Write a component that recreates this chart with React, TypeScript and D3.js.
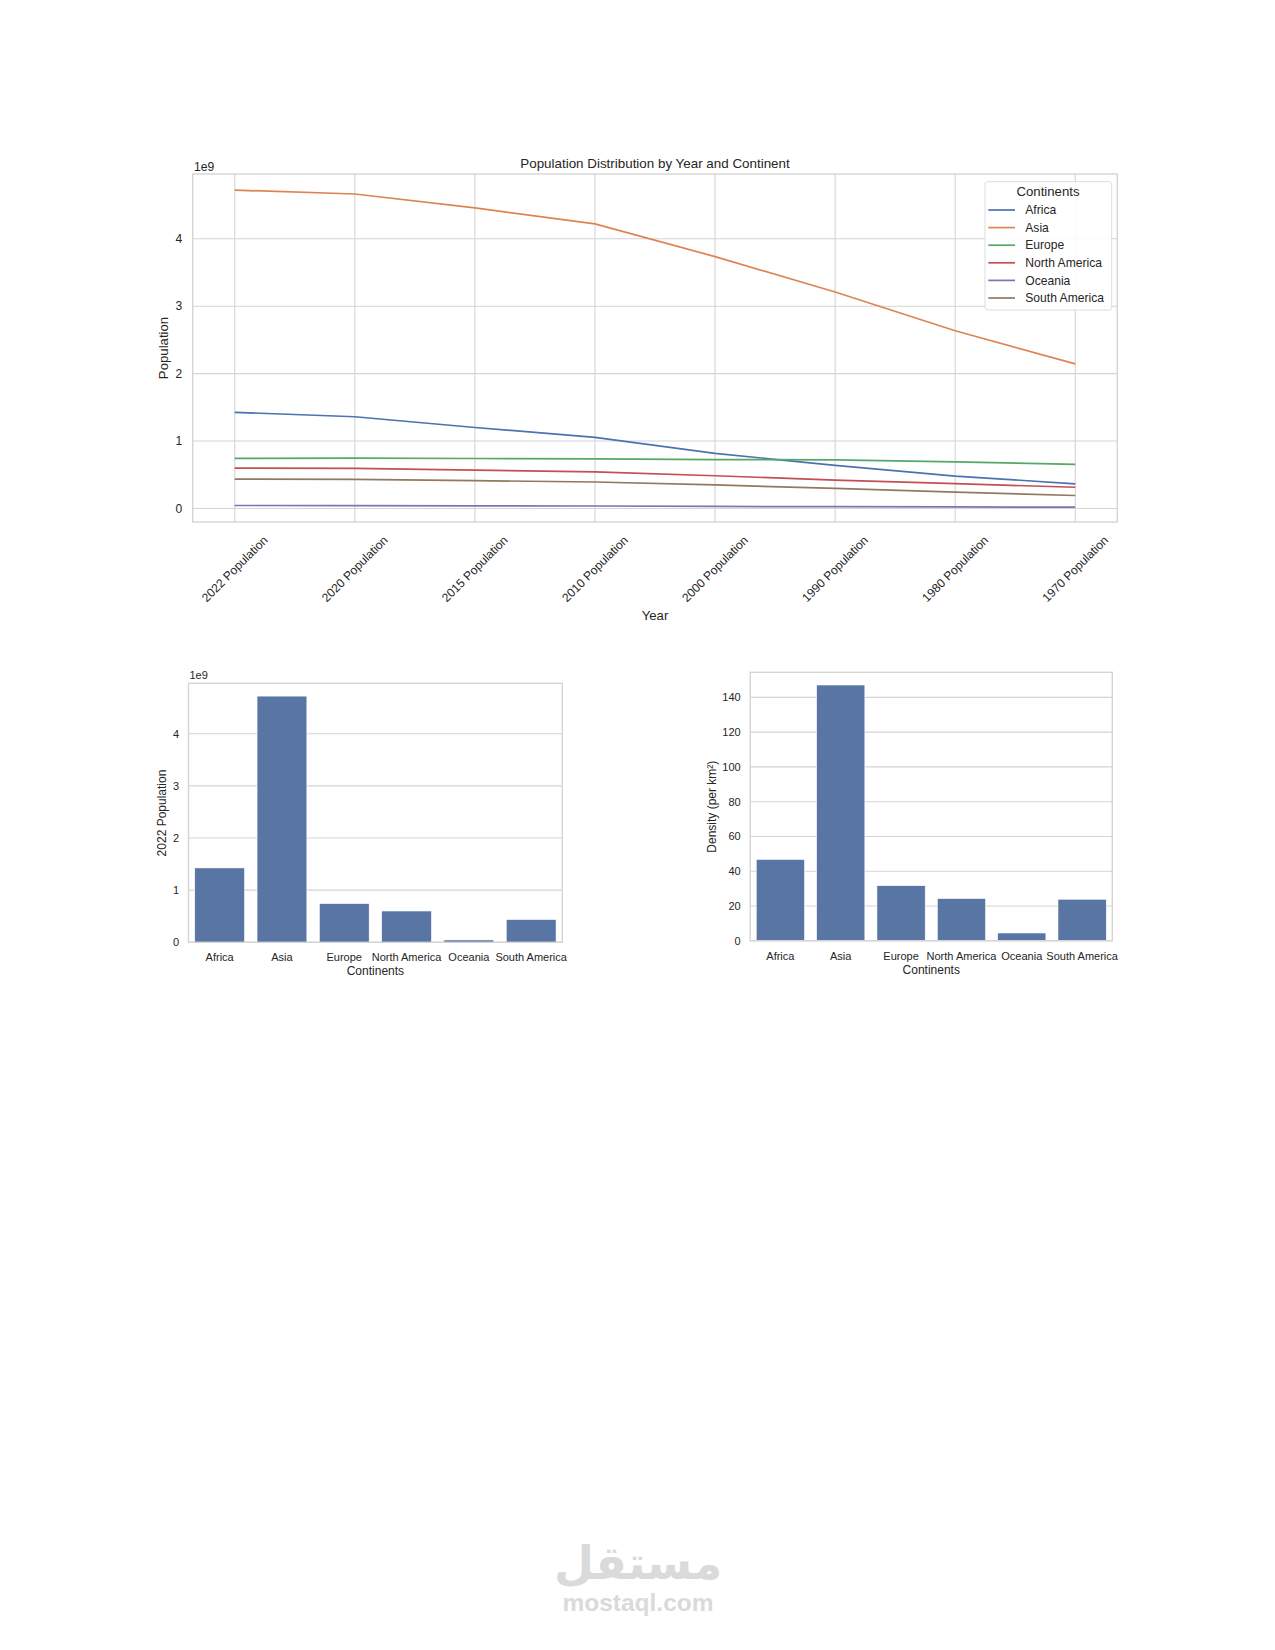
import React from "react";
import * as d3 from "d3";

const years = ["2022 Population", "2020 Population", "2015 Population", "2010 Population", "2000 Population", "1990 Population", "1980 Population", "1970 Population"];
const continents = ["Africa", "Asia", "Europe", "North America", "Oceania", "South America"];
// populations in millions
const africaPop = [1426.7, 1360.7, 1201.1, 1055.2, 818.9, 638.2, 481.5, 365.4];
const asiaPop = [4721.4, 4663.1, 4458.3, 4220.0, 3735.1, 3210.6, 2635.3, 2144.9];
const europePop = [743.1, 745.8, 741.5, 735.6, 726.1, 720.3, 692.5, 655.9];
const northAmericaPop = [600.3, 594.2, 570.4, 542.7, 486.1, 421.3, 368.3, 315.4];
const oceaniaPop = [45.0, 43.9, 40.4, 37.1, 31.2, 26.7, 22.9, 19.5];
const southAmericaPop = [436.8, 431.5, 413.1, 393.1, 349.6, 297.8, 241.8, 192.9];
const pop2022 = [1426.7, 4721.4, 743.1, 600.3, 45.0, 436.8];
const density = [46.8, 147.1, 31.7, 24.3, 4.5, 23.9];
const popTicks = [0, 1, 2, 3, 4];
const densityTicks = [0, 20, 40, 60, 80, 100, 120, 140];

const seriesColors = ["#4c72b0", "#dd8452", "#55a868", "#c44e52", "#8172b3", "#937860"];
const series = [africaPop, asiaPop, europePop, northAmericaPop, oceaniaPop, southAmericaPop];

const FONT = "'Liberation Sans', Arial, sans-serif";
const TXT = "#262626";
const GRID = "#d4d4d4";
const BAR = "#5975a4";

function LineChart() {
  const L = 192.7, R = 1117.3, T = 174, B = 522;
  const x = d3.scaleLinear().domain([-0.35, years.length - 1 + 0.35]).range([L, R]);
  const y = d3.scaleLinear().domain([-0.2, 4.96]).range([B, T]); // in 1e9
  const line = d3.line<number>().x((_, i) => x(i)).y((v) => y(v / 1000));
  const lgX = 985, lgY = 181.7, rowY0 = 210, rowStep = 17.6;
  return (
    <g fontFamily={FONT} fill={TXT}>
      {popTicks.map((t) => (
        <line key={"hg" + t} x1={L} x2={R} y1={y(t)} y2={y(t)} stroke={GRID} strokeWidth={1.1} />
      ))}
      {years.map((_, i) => (
        <line key={"vg" + i} x1={x(i)} x2={x(i)} y1={T} y2={B} stroke={GRID} strokeWidth={1.1} />
      ))}
      {series.map((s, k) => (
        <path key={"s" + k} d={line(s) || ""} fill="none" stroke={seriesColors[k]} strokeWidth={1.7} />
      ))}
      <rect x={L} y={T} width={R - L} height={B - T} fill="none" stroke={GRID} strokeWidth={1.4} />
      {popTicks.map((t) => (
        <text key={"yt" + t} x={182.3} y={y(t)} dy="0.35em" textAnchor="end" fontSize={12.1}>{t}</text>
      ))}
      {years.map((yr, i) => (
        <text key={"xt" + i} transform={`translate(${x(i)},569) rotate(-45)`} textAnchor="middle" dominantBaseline="central" fontSize={12.1}>{yr}</text>
      ))}
      <text x={194} y={170.7} fontSize={12.1}>1e9</text>
      <text x={(L + R) / 2} y={168.3} textAnchor="middle" fontSize={13.4}>Population Distribution by Year and Continent</text>
      <text x={(L + R) / 2} y={620} textAnchor="middle" fontSize={13.2}>Year</text>
      <text transform="translate(167.5,348) rotate(-90)" textAnchor="middle" fontSize={13.2}>Population</text>
      {/* legend */}
      <rect x={lgX} y={lgY} width={126.7} height={128.3} rx={2.5} fill="#ffffff" fillOpacity={0.85} stroke="#dddddd" strokeWidth={1} />
      <text x={1048} y={196} textAnchor="middle" fontSize={13.2}>Continents</text>
      {continents.map((c, k) => (
        <g key={"lg" + k}>
          <line x1={988.3} x2={1015} y1={rowY0 + k * rowStep} y2={rowY0 + k * rowStep} stroke={seriesColors[k]} strokeWidth={1.7} />
          <text x={1025.3} y={rowY0 + k * rowStep} dy="0.35em" fontSize={12.1}>{c}</text>
        </g>
      ))}
    </g>
  );
}

function BarChart(props: {
  L: number; R: number; T: number; B: number; values: number[]; max: number; ticks: number[];
  tickRight: number; ylabel: string; ylabelX: number; ylabelY: number; offset?: boolean;
  xtickY: number; xlabelY: number;
}) {
  const { L, R, T, B, values, max, ticks, tickRight, ylabel, ylabelX, ylabelY, offset, xtickY, xlabelY } = props;
  const x = d3.scaleBand().domain(continents).range([L, R]).paddingInner(0.2).paddingOuter(0.1);
  const y = d3.scaleLinear().domain([0, max]).range([B, T]);
  return (
    <g fontFamily={FONT} fill={TXT}>
      {ticks.map((t) => (
        <line key={"hg" + t} x1={L} x2={R} y1={y(t)} y2={y(t)} stroke={GRID} strokeWidth={1.1} />
      ))}
      {values.map((v, i) => (
        <rect key={"b" + i} x={x(continents[i])!} width={x.bandwidth()} y={y(v)} height={B - y(v)} fill={BAR} stroke="#ffffff" strokeWidth={0.6} />
      ))}
      <rect x={L} y={T} width={R - L} height={B - T} fill="none" stroke={GRID} strokeWidth={1.4} />
      {ticks.map((t) => (
        <text key={"yt" + t} x={tickRight} y={y(t)} dy="0.35em" textAnchor="end" fontSize={11}>{t}</text>
      ))}
      {continents.map((c) => (
        <text key={"xt" + c} x={x(c)! + x.bandwidth() / 2} y={xtickY} textAnchor="middle" fontSize={11}>{c}</text>
      ))}
      {offset && <text x={L + 1} y={T - 4} fontSize={11}>1e9</text>}
      <text x={(L + R) / 2} y={xlabelY} textAnchor="middle" fontSize={12}>Continents</text>
      <text transform={`translate(${ylabelX},${ylabelY}) rotate(-90)`} textAnchor="middle" fontSize={12}>{ylabel}</text>
    </g>
  );
}

export default function App() {
  return (
    <svg width={1275} height={1650} style={{ position: "absolute", left: 0, top: 0, background: "#ffffff" }}>
      <rect x={0} y={0} width={1275} height={1650} fill="#ffffff" />
      <LineChart />
      <BarChart L={188.5} R={562.3} T={683.3} B={942.3} values={pop2022.map((v) => v / 1000)} max={4.967} ticks={popTicks}
        tickRight={179} ylabel="2022 Population" ylabelX={165.5} ylabelY={813} offset xtickY={960.5} xlabelY={975.3} />
      <BarChart L={750.2} R={1112.3} T={672.3} B={940.8} values={density} max={154.4} ticks={densityTicks}
        tickRight={740.7} ylabel="Density (per km²)" ylabelX={715.5} ylabelY={806.7} xtickY={959.8} xlabelY={974.3} />
      <g fill="#dadada" textAnchor="middle">
        <text x={638} y={1579} fontFamily="'DejaVu Sans', sans-serif" fontWeight="bold" fontSize={46}>مستقل</text>
        <text x={638} y={1611} fontFamily={FONT} fontWeight="bold" fontSize={24.5}>mostaql.com</text>
      </g>
    </svg>
  );
}
